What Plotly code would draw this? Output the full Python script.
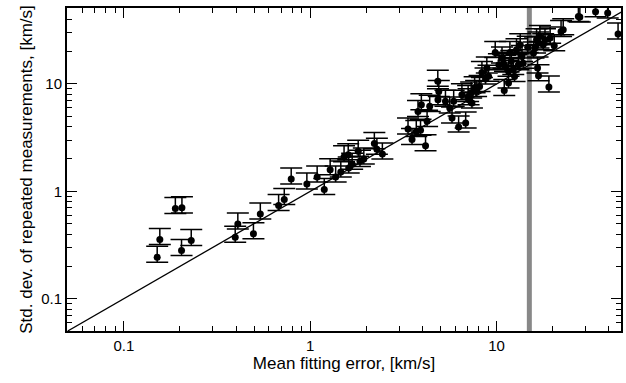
import plotly.graph_objects as go

# Mean fitting error [km/s]
mean_err = [0.189, 0.205, 0.156, 0.151, 0.204, 0.230, 0.409, 0.396, 0.540, 0.496,
            0.677, 0.726, 0.791, 0.960, 1.09, 1.19, 1.28, 1.37, 1.46, 1.52,
            1.60, 1.61, 1.68, 1.81, 1.85, 1.94, 2.21, 2.28, 2.44,
            3.35, 3.52, 3.71, 3.91, 4.16, 3.79, 3.95, 4.24, 4.38, 4.84,
            4.90, 4.85, 5.32, 5.61, 5.77, 6.26, 6.83, 5.89, 6.52, 7.04,
            7.31, 7.77, 8.11, 8.35, 8.73, 8.87, 7.08, 7.38, 9.06, 7.63,
            9.84, 10.7, 10.9, 11.1, 11.6, 11.8, 12.0, 12.3, 12.5, 12.8,
            13.4, 13.1, 13.7, 13.9, 14.7, 15.8, 16.1, 16.4, 17.1, 16.8,
            17.8, 18.2, 19.4, 20.4, 22.2, 22.8, 16.6, 16.8, 19.1, 11.6,
            11.0, 27.5, 28.0, 39.5, 44.9, 10.3, 34.0]
# Std. dev. of repeated measurements [km/s]
std_dev = [0.690, 0.701, 0.356, 0.243, 0.281, 0.348, 0.497, 0.373, 0.616, 0.402,
           0.736, 0.837, 1.30, 1.17, 1.36, 1.04, 1.59, 1.36, 1.51, 2.10,
           2.19, 1.65, 1.79, 2.36, 1.90, 2.00, 2.78, 2.47, 2.22,
           3.80, 3.03, 3.61, 3.71, 2.66, 5.55, 6.41, 4.48, 6.18, 10.6,
           8.51, 7.13, 6.88, 5.97, 4.82, 3.97, 4.33, 6.88, 7.94, 7.65,
           8.23, 8.51, 9.48, 12.8, 11.1, 14.1, 7.13, 6.64, 11.8, 9.22,
           19.6, 17.4, 15.6, 14.6, 13.1, 19.6, 16.2, 13.6, 11.7, 20.8,
           23.2, 15.1, 18.0, 15.6, 21.9, 19.4, 21.6, 25.8, 27.7, 24.0,
           23.2, 25.8, 26.7, 22.7, 30.8, 31.9, 14.1, 11.9, 9.36, 10.2,
           8.70, 42.5, 41.9, 45.7, 29.1, 15.1, 47.0]

# Relative confidence limits of the std. dev.
upper_frac = 0.266
lower_frac = 0.102
err_plus = [upper_frac * v for v in std_dev]
err_minus = [lower_frac * v for v in std_dev]

one_to_one = [0.05, 50.0]
threshold_x = 15.0

font = "Liberation Sans, Arial, Helvetica, sans-serif"

fig = go.Figure()
fig.add_trace(go.Scatter(
    x=one_to_one, y=one_to_one, mode="lines",
    line=dict(color="black", width=1.3), showlegend=False, hoverinfo="skip"))
fig.add_trace(go.Scatter(
    x=mean_err, y=std_dev, mode="markers",
    marker=dict(color="black", size=7),
    error_y=dict(type="data", array=err_plus, arrayminus=err_minus,
                 color="black", thickness=1.5, width=11),
    showlegend=False))

fig.add_shape(type="line", xref="x", yref="paper", x0=threshold_x, x1=threshold_x,
              y0=0, y1=1, line=dict(color="#888888", width=5), layer="below")

axis_common = dict(
    type="log", showline=True, linecolor="black", linewidth=2, mirror="ticks",
    ticks="inside", ticklen=10, tickwidth=1, tickcolor="black",
    showgrid=False, zeroline=False,
    tickfont=dict(family=font, size=15, color="black"),
    minor=dict(ticks="inside", ticklen=5, tickwidth=1, tickcolor="black",
               dtick="D1", showgrid=False),
)

fig.update_layout(
    width=626, height=383,
    margin=dict(l=67, r=3, t=8, b=52),
    paper_bgcolor="white", plot_bgcolor="white",
    font=dict(family=font, size=17, color="black"),
    xaxis=dict(axis_common, range=[-1.305, 1.668], dtick=1,
               title=dict(text="Mean fitting error, [km/s]", standoff=2,
                          font=dict(family=font, size=17))),
    yaxis=dict(axis_common, range=[-1.301, 1.707], dtick=1,
               title=dict(text="Std. dev. of repeated measurements, [km/s]", standoff=4,
                          font=dict(family=font, size=17))),
)

fig.write_html("out.html")
